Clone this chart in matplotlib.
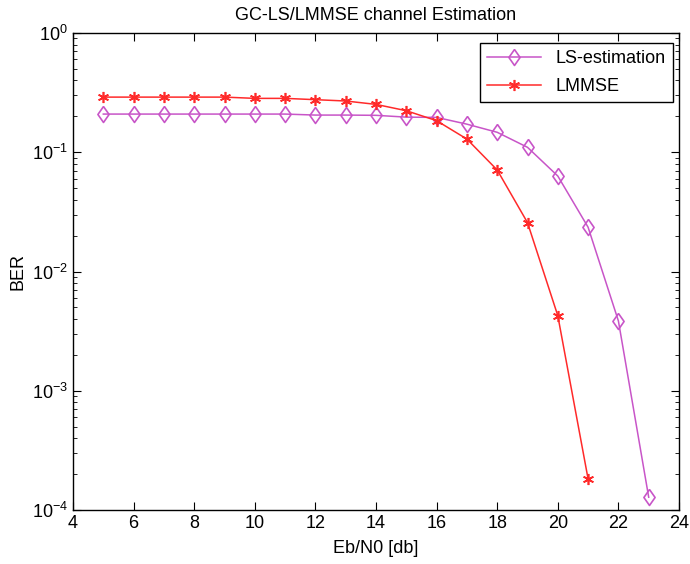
import matplotlib
matplotlib.use("Agg")
import matplotlib.pyplot as plt
from matplotlib.ticker import LogLocator, NullFormatter

snr = [5, 6, 7, 8, 9, 10, 11, 12, 13, 14, 15, 16, 17, 18, 19, 20, 21, 22, 23]
ls_ber = [0.209, 0.209, 0.209, 0.209, 0.209, 0.209, 0.209, 0.205, 0.205, 0.204, 0.197, 0.196,
          0.172, 0.147, 0.110, 0.0632, 0.0235, 0.00385, 0.000128]
snr_lmmse = [5, 6, 7, 8, 9, 10, 11, 12, 13, 14, 15, 16, 17, 18, 19, 20, 21]
lmmse_ber = [0.29, 0.29, 0.29, 0.29, 0.29, 0.283, 0.283, 0.276, 0.269, 0.252, 0.223, 0.184,
             0.129, 0.071, 0.0257, 0.00426, 0.000182]

plt.rcParams['font.family'] = ['Liberation Sans', 'DejaVu Sans']
fig = plt.figure(figsize=(6.9, 5.64), dpi=100)
ax = fig.add_axes([73 / 690, 54 / 564, 606 / 690, 477 / 564])

diamond = [(0, 1), (0.7, 0), (0, -1), (-0.7, 0), (0, 1)]
ax.semilogy(snr, ls_ber, color='#C855C8', marker=diamond, markersize=11.5, mfc='none',
            mew=1.2, lw=1.1, label='LS-estimation')
ax.semilogy(snr_lmmse, lmmse_ber, color='#FF2A2A', marker=(6, 2, 0), markersize=8,
            mew=1.2, lw=1.1, label='LMMSE')

ax.set_xlim(4, 24)
ax.set_ylim(1e-4, 1)
ax.set_xticks(range(4, 25, 2))
ax.yaxis.set_major_locator(LogLocator(base=10, numticks=10))
ax.yaxis.set_minor_locator(LogLocator(base=10, subs=range(2, 10), numticks=20))
ax.yaxis.set_minor_formatter(NullFormatter())
ax.tick_params(which='both', direction='in', top=True, right=True, labelsize=13)
ax.tick_params(which='major', length=6)
ax.tick_params(which='minor', length=3)
for s in ax.spines.values():
    s.set_linewidth(1.0)

ax.set_title('GC-LS/LMMSE channel Estimation', fontsize=13, pad=9)
ax.set_xlabel('Eb/N0 [db]', fontsize=13, labelpad=6)
ax.set_ylabel('BER', fontsize=13)

leg = ax.legend(loc='upper right', bbox_to_anchor=(0.990, 0.979), borderaxespad=0,
                fontsize=13, fancybox=False, edgecolor='black', framealpha=1,
                handlelength=3, labelspacing=0.6)
leg.get_frame().set_linewidth(1.0)

fig.savefig('out.png', dpi=100)
